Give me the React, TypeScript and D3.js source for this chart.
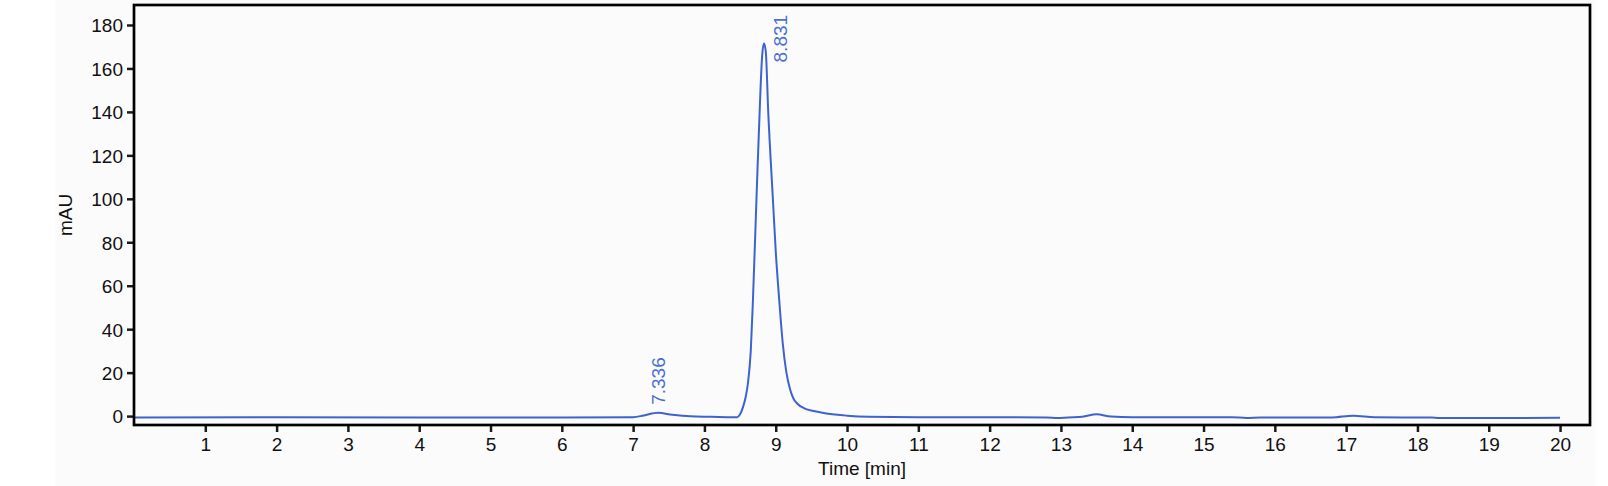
import React, { useEffect, useRef } from 'react';
import * as d3 from 'd3';

// Chromatogram trace (time in min, signal in mAU)
const times = [
  0, 2, 4, 6, 7.0, 7.15, 7.35, 7.55, 7.8, 8.1, 8.4, 8.46, 8.5, 8.54, 8.58, 8.61,
  8.65, 8.68, 8.73, 8.78, 8.81, 8.835, 8.86, 8.895, 8.96, 9.0, 9.05, 9.1, 9.15, 9.2,
  9.25, 9.3, 9.4, 9.55, 9.71, 10.0, 10.3, 11, 12.8, 12.95, 13.1, 13.3, 13.5, 13.7,
  14, 15.4, 15.6, 15.8, 16.8, 17.1, 17.4, 18.2, 18.3, 20,
];
const signal = [
  -0.6, -0.5, -0.6, -0.6, -0.5, 0.3, 1.5, 0.6, -0.1, -0.3, -0.5, -0.5, 0.8, 4, 9, 15,
  30, 53, 100, 145, 166, 171.5, 168, 140, 100, 76, 53, 33, 20, 12.5,
  8, 5.8, 3.6, 2.2, 1.2, 0.2, -0.3, -0.5, -0.6, -0.9, -0.6, -0.3, 0.8, -0.2,
  -0.5, -0.5, -0.9, -0.7, -0.6, 0.2, -0.5, -0.7, -0.9, -0.8,
];

// Annotated peaks
const peakTimes = [7.336, 8.831];
const peakHeights = [1.5, 171.5];
const peakLabels = ['7.336', '8.831'];

const xTicks = d3.range(1, 21);
const yTicks = d3.range(0, 181, 20);

const App: React.FC = () => {
  const svgRef = useRef<SVGSVGElement>(null);

  useEffect(() => {
    if (!svgRef.current) return;
    const width = 1608;
    const height = 486;
    const svg = d3.select(svgRef.current);
    svg.selectAll('*').remove();
    svg.attr('width', width).attr('height', height);

    const margin = { top: 5, right: 18, bottom: 61, left: 134 };
    const x = d3.scaleLinear().domain([0, 20.42]).range([margin.left, width - margin.right]);
    const y = d3.scaleLinear().domain([-4.1, 189.2]).range([height - margin.bottom, margin.top]);

    const font = '"Liberation Sans", Arial, sans-serif';
    const lineColor = '#3d63cf';
    const labelColor = '#4a70d2';

    // light grey backdrop
    svg.append('rect')
      .attr('x', 55).attr('y', 0)
      .attr('width', 1540).attr('height', height)
      .attr('fill', '#fbfbfb');

    // trace
    const pts: [number, number][] = times.map((t, i) => [t, signal[i]]);
    const line = d3.line<[number, number]>()
      .x(d => x(d[0]))
      .y(d => y(d[1]))
      .curve(d3.curveMonotoneX);
    svg.append('path')
      .attr('d', line(pts))
      .attr('fill', 'none')
      .attr('stroke', lineColor)
      .attr('stroke-width', 2);

    // peak labels
    const offsets = [[8, -8], [23, 19]];
    peakTimes.forEach((t, i) => {
      const px = x(t) + offsets[i][0];
      const py = y(peakHeights[i]) + offsets[i][1];
      svg.append('text')
        .attr('transform', `translate(${px},${py}) rotate(-90)`)
        .attr('fill', labelColor)
        .style('font-family', font)
        .style('font-size', '19px')
        .text(peakLabels[i]);
    });

    // axes
    const xAxis = d3.axisBottom(x).tickValues(xTicks).tickSize(7).tickPadding(6).tickFormat(d3.format('d'));
    const gx = svg.append('g')
      .attr('transform', `translate(0,${height - margin.bottom})`)
      .call(xAxis);
    const yAxis = d3.axisLeft(y).tickValues(yTicks).tickSize(7).tickPadding(4).tickFormat(d3.format('d'));
    const gy = svg.append('g')
      .attr('transform', `translate(${margin.left},0)`)
      .call(yAxis);
    [gx, gy].forEach(g => {
      g.select('.domain').remove();
      g.selectAll('line').attr('stroke', '#1a1a1a').attr('stroke-width', 2.5);
      g.selectAll('text')
        .attr('fill', '#111')
        .style('font-family', font)
        .style('font-size', '19px');
    });
    gy.selectAll('text').attr('dy', '0.36em');

    // frame
    svg.append('rect')
      .attr('x', margin.left).attr('y', margin.top)
      .attr('width', width - margin.right - margin.left)
      .attr('height', height - margin.bottom - margin.top)
      .attr('fill', 'none')
      .attr('stroke', '#000')
      .attr('stroke-width', 2.7);

    // axis titles
    svg.append('text')
      .attr('x', (margin.left + width - margin.right) / 2)
      .attr('y', 475)
      .attr('text-anchor', 'middle')
      .attr('fill', '#111')
      .style('font-family', font)
      .style('font-size', '19px')
      .text('Time [min]');
    svg.append('text')
      .attr('transform', `translate(72,215) rotate(-90)`)
      .attr('text-anchor', 'middle')
      .attr('fill', '#111')
      .style('font-family', font)
      .style('font-size', '19px')
      .text('mAU');
  }, []);

  return (
    <div style={{ position: 'absolute', left: 0, top: 0, background: '#fff' }}>
      <svg ref={svgRef}></svg>
    </div>
  );
};

export default App;
